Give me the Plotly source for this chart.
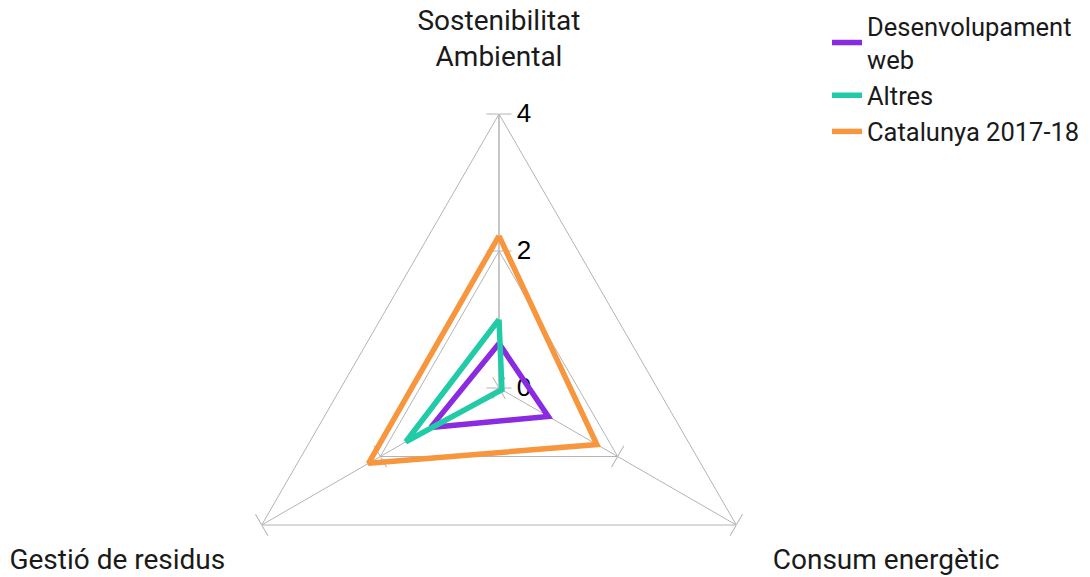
import plotly.graph_objects as go

# ---- data ----
categories = ["Sostenibilitat<br>Ambiental", "Gestió de residus", "Consum energètic"]
series_names = ["Desenvolupament<br>web", "Altres", "Catalunya 2017-18"]
desenvolupament_web = [0.65, 1.15, 0.83]
altres = [1.0, 1.57, 0.05]
catalunya = [2.22, 2.2, 1.65]
radial_ticks = [0, 2, 4]
radial_range = [0, 4]

series_values = [desenvolupament_web, altres, catalunya]
colors = ["#8a2be2", "#22cba8", "#f7963c"]
grid = "#b4b4b4"
text_font = "Roboto, sans-serif"

W, H = 1090, 720
cx, cy, R = 499, 388, 274
dom_x = [(cx - R) / W, (cx + R) / W]
dom_y = [(H - cy - R) / H, (H - cy + R) / H]

fig = go.Figure()

angular_base = dict(type="category", categoryorder="array", categoryarray=categories,
                    rotation=90, direction="counterclockwise")

# overlay subplots that only draw crossing tick marks on every spoke
overlays = [("polar2", 90, "inside"), ("polar3", -150, "outside"), ("polar4", -150, "inside"),
            ("polar5", -30, "outside"), ("polar6", -30, "inside")]

for sp in ["polar"] + [o[0] for o in overlays[:-1]]:
    fig.add_trace(go.Scatterpolar(r=[radial_range[0]], theta=[categories[0]], mode="markers",
                                  marker=dict(size=1, opacity=0), showlegend=False,
                                  hoverinfo="skip", subplot=sp))

for name, vals, col in zip(series_names, series_values, colors):
    fig.add_trace(go.Scatterpolar(
        r=vals + vals[:1], theta=categories + categories[:1], mode="lines", name=name,
        line=dict(color=col, width=5.5), subplot="polar6"))

layout = dict(
    width=W, height=H, autosize=False,
    margin=dict(l=0, r=0, t=0, b=0),
    paper_bgcolor="white",
    showlegend=True,
    legend=dict(x=0.7587, y=0.996, xanchor="left", yanchor="top",
                font=dict(family=text_font, size=25.5, color="#1a1a1a"),
                bgcolor="rgba(0,0,0,0)", tracegroupgap=0),
    polar=dict(
        domain=dict(x=dom_x, y=dom_y), bgcolor="white", gridshape="linear",
        radialaxis=dict(range=radial_range, tickvals=radial_ticks, angle=90, side="clockwise",
                        tickangle=90,
                        showline=True, linecolor=grid, linewidth=1,
                        showgrid=True, gridcolor=grid, gridwidth=1,
                        ticks="outside", ticklen=12, tickcolor=grid,
                        tickfont=dict(family="Liberation Sans, Arial", size=26, color="black"),
                        layer="below traces"),
        angularaxis=dict(**angular_base, showline=True, linecolor=grid, linewidth=1,
                         showgrid=True, gridcolor=grid, gridwidth=1,
                         ticks="outside", ticklen=36, tickcolor="rgba(0,0,0,0)",
                         tickfont=dict(family=text_font, size=28, color="#1a1a1a"),
                         layer="below traces"),
    ),
)
for sp, ang, tk in overlays:
    layout[sp] = dict(
        domain=dict(x=dom_x, y=dom_y), bgcolor="rgba(0,0,0,0)",
        radialaxis=dict(range=radial_range, tickvals=radial_ticks, angle=ang, side="clockwise",
                        showline=False, showgrid=False, ticks=tk, ticklen=12, tickcolor=grid,
                        showticklabels=False, layer="below traces"),
        angularaxis=dict(**angular_base, visible=False),
    )
fig.update_layout(**layout)

fig.write_html("out.html", config={"displayModeBar": False},
               post_script="document.documentElement.style.overflow='hidden';"
                           "document.body.style.overflow='hidden';"
                           "document.body.style.margin='0';")
